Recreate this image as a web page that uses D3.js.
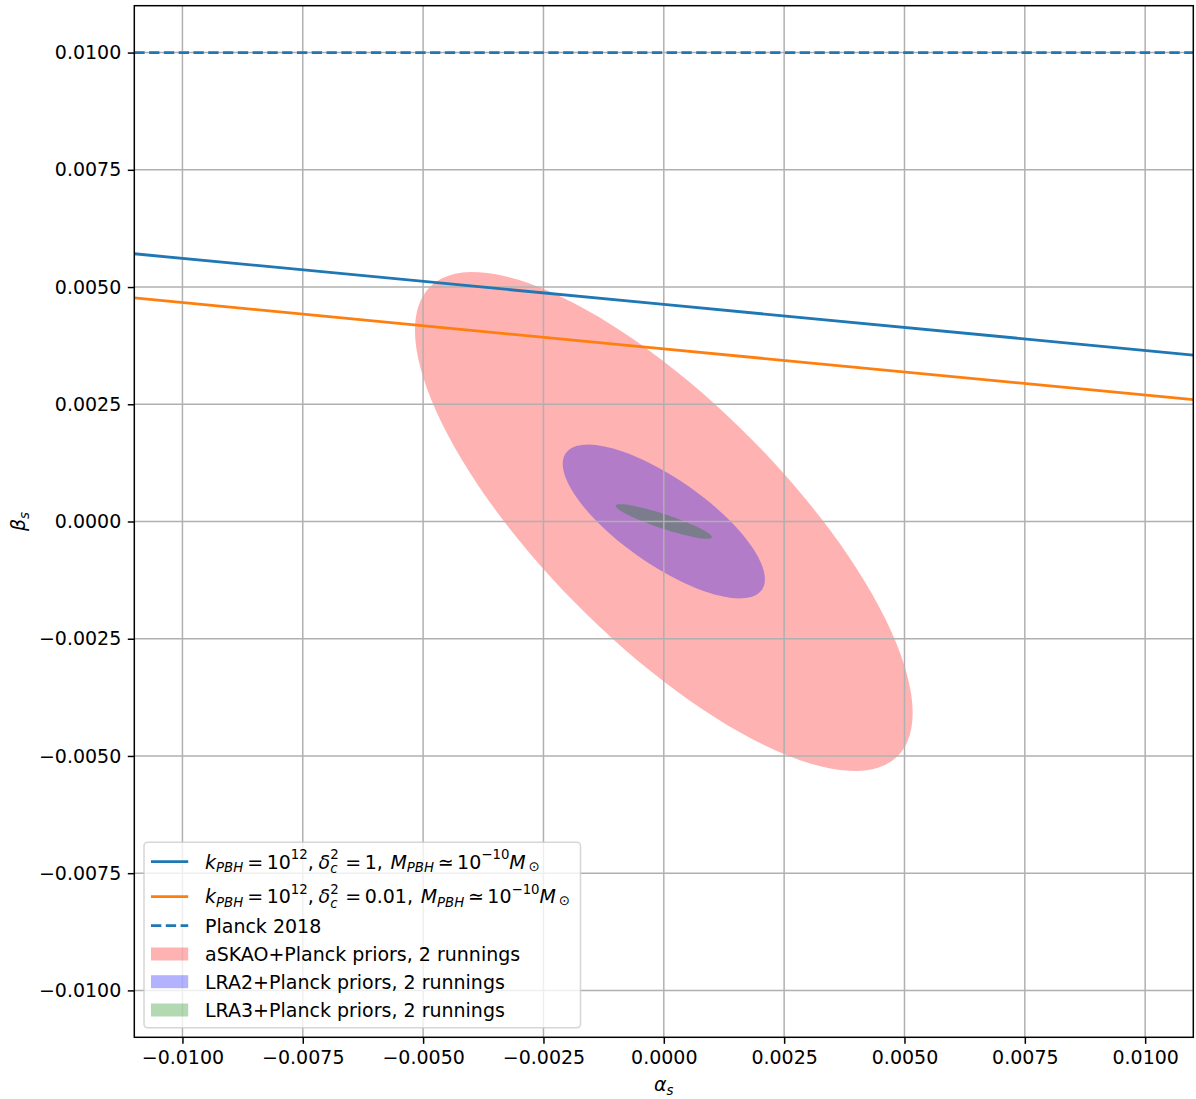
<!DOCTYPE html>
<html>
<head>
<meta charset="utf-8">
<script src="https://cdn.jsdelivr.net/npm/d3@7"></script>
<style>
  html, body { margin: 0; padding: 0; background: #fff; }
  svg text { font-family: "DejaVu Sans", sans-serif; fill: #000; }
</style>
</head>
<body>
<svg id="chart" width="1196" height="1099"></svg>
<script>
// ── Data ────────────────────────────────────────────────────────────────
const alphaTicks = [-0.01, -0.0075, -0.005, -0.0025, 0, 0.0025, 0.005, 0.0075, 0.01];
const betaTicks  = [-0.01, -0.0075, -0.005, -0.0025, 0, 0.0025, 0.005, 0.0075, 0.01];

// PBH constraint lines (beta_s vs alpha_s)
const lineAlpha   = [-0.011, 0, 0.011];
const betaDelta1  = [0.00571, 0.00463, 0.00355];
const betaDelta01 = [0.00477, 0.00368, 0.00260];

// Planck 2018 bound
const planckAlpha = [-0.011, 0.011];
const planckBeta  = [0.01, 0.01];

// Forecast ellipses: 1-sigma widths + correlation
const ellipseNames  = ['aSKAO+Planck priors, 2 runnings', 'LRA2+Planck priors, 2 runnings', 'LRA3+Planck priors, 2 runnings'];
const ellipseColors = ['#ff0000', '#0000ff', '#008000'];
const centerAlpha   = [0, 0, 0];
const centerBeta    = [0, 0, 0];
const sigmaAlpha    = [0.00517, 0.00210, 0.00100];
const sigmaBeta     = [0.00532, 0.00164, 0.00037];
const corrAB        = [-0.767, -0.75, -0.9];

// ── Layout ──────────────────────────────────────────────────────────────
const W = 1196, H = 1099;
const M = { left: 134.3, top: 5.7, right: 1193.3, bottom: 1037.3 };
const FS = 19;            // ~10pt at this dpi
const PT = 1.86;          // px per pt

const svg = d3.select('#chart');

const x = d3.scaleLinear().domain([-0.011, 0.011]).range([M.left, M.right]);
const y = d3.scaleLinear().domain([-0.011, 0.011]).range([M.bottom, M.top]);

const fmt = d => (d < 0 ? '\u2212' : '') + Math.abs(d).toFixed(4);

svg.append('defs').append('clipPath').attr('id', 'plot-clip')
  .append('rect')
  .attr('x', M.left).attr('y', M.top)
  .attr('width', M.right - M.left).attr('height', M.bottom - M.top);

const plot = svg.append('g').attr('clip-path', 'url(#plot-clip)');

// Ellipses
const tGrid = d3.range(0, 361, 3).map(d => d * Math.PI / 180);
const ellLine = d3.line().curve(d3.curveLinearClosed);

ellipseNames.forEach((name, i) => {
  const sa = sigmaAlpha[i], sb = sigmaBeta[i], r = corrAB[i];
  const pts = tGrid.map(t => {
    const a = centerAlpha[i] + sa * Math.cos(t);
    const b = centerBeta[i] + sb * (r * Math.cos(t) + Math.sqrt(1 - r * r) * Math.sin(t));
    return [x(a), y(b)];
  });
  plot.append('path')
    .attr('d', ellLine(pts))
    .attr('fill', ellipseColors[i])
    .attr('fill-opacity', 0.3)
    .attr('stroke', 'none');
});

// Grid (above patches, below lines)
const grid = plot.append('g');
grid.selectAll('.gx').data(alphaTicks).enter().append('line')
  .attr('x1', d => x(d)).attr('x2', d => x(d))
  .attr('y1', M.top).attr('y2', M.bottom)
  .attr('stroke', '#b0b0b0').attr('stroke-width', 0.8 * PT);
grid.selectAll('.gy').data(betaTicks).enter().append('line')
  .attr('y1', d => y(d)).attr('y2', d => y(d))
  .attr('x1', M.left).attr('x2', M.right)
  .attr('stroke', '#b0b0b0').attr('stroke-width', 0.8 * PT);

// Lines
const line = d3.line().x(d => x(d[0])).y(d => y(d[1]));
plot.append('path').attr('d', line(d3.zip(lineAlpha, betaDelta1)))
  .attr('fill', 'none').attr('stroke', '#1f77b4').attr('stroke-width', 1.5 * PT);
plot.append('path').attr('d', line(d3.zip(lineAlpha, betaDelta01)))
  .attr('fill', 'none').attr('stroke', '#ff7f0e').attr('stroke-width', 1.5 * PT);
plot.append('path').attr('d', line(d3.zip(planckAlpha, planckBeta)))
  .attr('fill', 'none').attr('stroke', '#1f77b4').attr('stroke-width', 1.5 * PT)
  .attr('stroke-dasharray', `${5.55 * PT},${2.4 * PT}`);

// Axes
const xAxis = d3.axisBottom(x).tickValues(alphaTicks).tickFormat(fmt)
  .tickSize(3.5 * PT).tickPadding(3.5 * PT);
const yAxis = d3.axisLeft(y).tickValues(betaTicks).tickFormat(fmt)
  .tickSize(3.5 * PT).tickPadding(3.5 * PT);

const gx = svg.append('g').attr('transform', `translate(0,${M.bottom})`).call(xAxis);
const gy = svg.append('g').attr('transform', `translate(${M.left},0)`).call(yAxis);
[gx, gy].forEach(ax => {
  ax.select('.domain').remove();
  ax.selectAll('line').attr('stroke', '#000').attr('stroke-width', 0.8 * PT);
  ax.selectAll('text').attr('font-size', FS).attr('font-family', 'DejaVu Sans').attr('fill', '#000');
});
gx.selectAll('text').attr('dy', '0.72em');

// Spines
svg.append('rect')
  .attr('x', M.left).attr('y', M.top)
  .attr('width', M.right - M.left).attr('height', M.bottom - M.top)
  .attr('fill', 'none').attr('stroke', '#000').attr('stroke-width', 0.8 * PT);

// ── Mathtext helper: one <text>, tspans placed after measuring ──────────
// seg: t text, it italic, sub/sup script, low sub drop (em), pre gap (em), stack = share x with next
function mathText(parent, segs, size) {
  const g = parent.append('g');
  const probe = g.append('text').attr('visibility', 'hidden').style('white-space', 'pre');
  const spans = [];
  let cx = 0, stackW = 0;
  segs.forEach(s => {
    const small = s.sub || s.sup;
    const fs = small ? size * 0.7 : size;
    const dy = s.sub ? size * (s.low || 0.18) : (s.sup ? -size * 0.48 : 0);
    if (!stackW) cx += (s.pre || 0) * size;
    probe.attr('font-size', fs).attr('font-style', s.it ? 'italic' : 'normal').text(s.t);
    const w = probe.node().getComputedTextLength();
    spans.push({ s, fs, dy, x: cx });
    if (s.stack) { stackW = w; }
    else { cx += Math.max(w, stackW); stackW = 0; }
  });
  probe.remove();
  const t = g.append('text').style('white-space', 'pre');
  spans.forEach(p => {
    t.append('tspan')
      .attr('x', p.x).attr('y', p.dy)
      .attr('font-size', p.fs)
      .attr('font-style', p.s.it ? 'italic' : 'normal')
      .text(p.s.t);
  });
  return { g, width: cx };
}

// Axis labels
const xl = mathText(svg, [{ t: '\u03b1', it: true }, { t: 's', it: true, sub: true, low: 0.2 }], FS);
xl.g.attr('transform', `translate(${x(0) - xl.width / 2},1091)`);
const yl = mathText(svg, [{ t: '\u03b2', it: true }, { t: 's', it: true, sub: true, low: 0.2 }], FS);
yl.g.attr('transform', `translate(25,${y(0) + yl.width / 2}) rotate(-90)`);

// ── Legend ──────────────────────────────────────────────────────────────
const legend = svg.append('g');
legend.append('rect')
  .attr('x', 144).attr('y', 842.3).attr('width', 436.5).attr('height', 185.4)
  .attr('rx', 3.7).attr('ry', 3.7)
  .attr('fill', '#fff').attr('fill-opacity', 0.8)
  .attr('stroke', '#cccccc').attr('stroke-opacity', 0.8).attr('stroke-width', 1.5);

const HX0 = 151, HX1 = 188.2, TX = 205;

const labelDelta1 = [
  { t: 'k', it: true }, { t: 'PBH', it: true, sub: true },
  { t: '=', pre: 0.22 }, { t: '10', pre: 0.18 }, { t: '12', sup: true }, { t: ',' },
  { t: '\u03b4', it: true, pre: 0.25 }, { t: '2', sup: true, stack: true }, { t: 'c', it: true, sub: true, low: 0.26 },
  { t: '=', pre: 0.35 }, { t: '1', pre: 0.18 }, { t: ',' },
  { t: 'M', it: true, pre: 0.4 }, { t: 'PBH', it: true, sub: true },
  { t: '\u2243', pre: 0.2 }, { t: '10', pre: 0.18 }, { t: '\u221210', sup: true },
  { t: 'M', it: true }, { t: '\u2299', sub: true, low: 0.12, pre: 0.15 }
];
const labelDelta01 = labelDelta1.map(s => s.t === '1' ? { t: '0.01', pre: 0.18 } : s);

const lineRows = [
  { y: 861.7, base: 868.5, color: '#1f77b4', dash: null, segs: labelDelta1 },
  { y: 896.7, base: 903.2, color: '#ff7f0e', dash: null, segs: labelDelta01 },
  { y: 925.7, base: 932.7, color: '#1f77b4', dash: `${5.55 * PT},${2.4 * PT}`, segs: [{ t: 'Planck 2018' }] }
];
lineRows.forEach(r => {
  const l = legend.append('line')
    .attr('x1', HX0).attr('x2', HX1).attr('y1', r.y).attr('y2', r.y)
    .attr('stroke', r.color).attr('stroke-width', 1.5 * PT);
  if (r.dash) l.attr('stroke-dasharray', r.dash);
  const m = mathText(legend, r.segs, FS);
  m.g.attr('transform', `translate(${TX},${r.base})`);
});

const patchRowsY = [954, 981.7, 1010];
ellipseNames.forEach((name, i) => {
  legend.append('rect')
    .attr('x', HX0).attr('y', patchRowsY[i] - 6.5).attr('width', HX1 - HX0).attr('height', 13)
    .attr('fill', ellipseColors[i]).attr('fill-opacity', 0.3);
  legend.append('text')
    .attr('x', TX).attr('y', patchRowsY[i] + 7)
    .attr('font-size', FS)
    .text(name);
});
</script>
</body>
</html>
